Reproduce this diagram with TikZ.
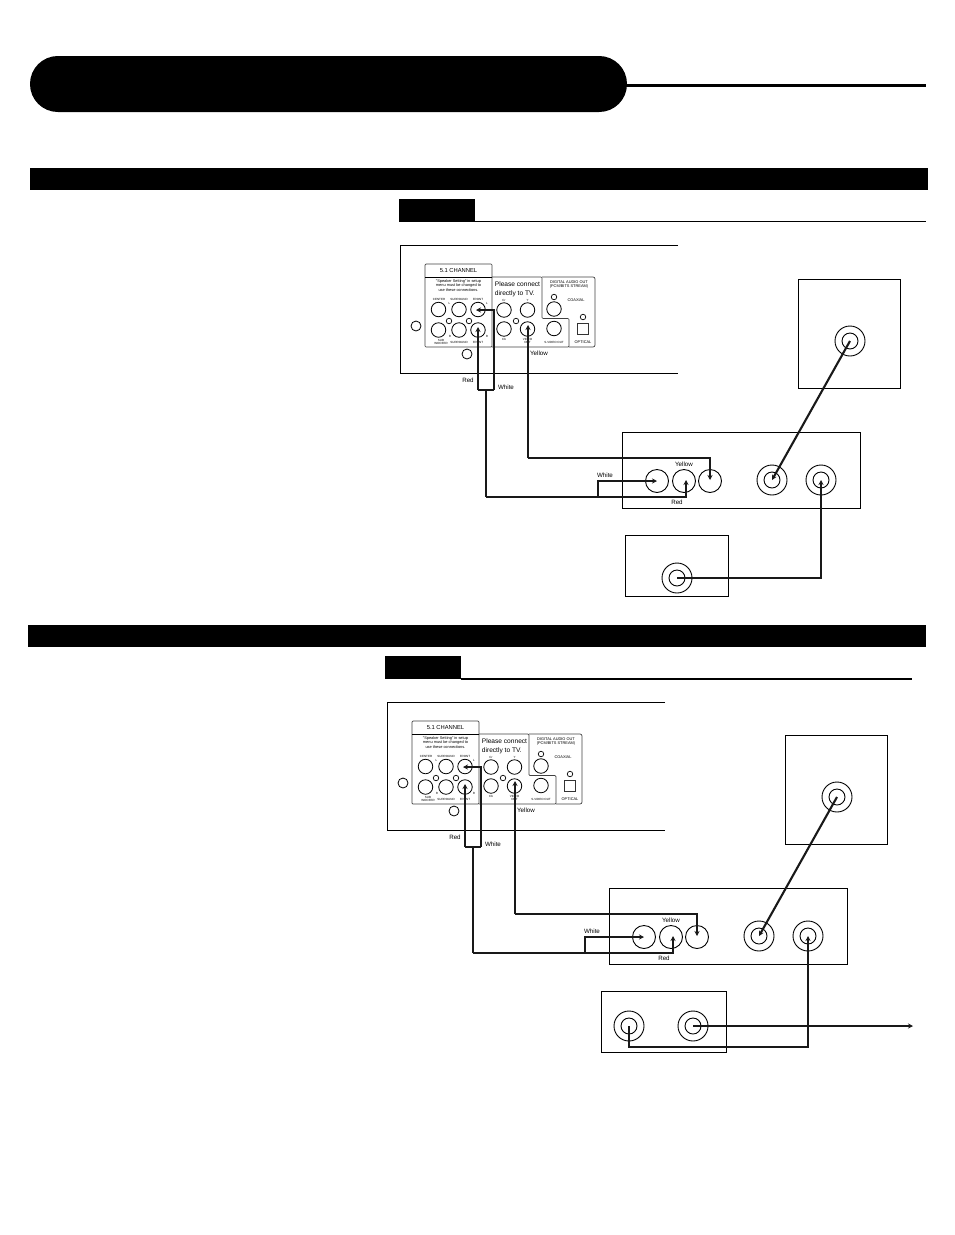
\documentclass[tikz,border=0pt]{standalone}
\usepackage{fontspec}
\setmainfont{Liberation Sans}
\usetikzlibrary{arrows.meta}
\tikzset{
  bar/.style={fill=black,draw=none,inner sep=0},
  thin box/.style={draw=black,line width=0.8pt,inner sep=0,fill=none},
  frame/.style={draw=black,line width=0.8pt},
  jack/.style={circle,draw=black,line width=0.8pt,inner sep=0,minimum size=14.5pt},
  ringout/.style={circle,draw=black,line width=0.9pt,inner sep=0,minimum size=30pt},
  ringin/.style={circle,draw=black,line width=0.9pt,inner sep=0,minimum size=16pt},
  smallhole/.style={circle,draw=black,line width=0.7pt,inner sep=0,minimum size=5.5pt},
  hole/.style={circle,draw=black,line width=0.8pt,inner sep=0,minimum size=10pt},
  cable/.style={line width=2.1pt,draw=black!90,line join=miter,-{Stealth[length=5pt,width=5pt]}},
  plaincable/.style={line width=2.1pt,draw=black!90,line join=miter},
  tiny/.style={font=\fontsize{3}{3.5}\selectfont,inner sep=0,align=center},
  small/.style={font=\fontsize{3.9}{4.7}\selectfont,inner sep=0,align=center},
  note/.style={font=\fontsize{6.6}{9.2}\selectfont,inner sep=0,align=left},
  lab/.style={font=\fontsize{6.2}{7}\selectfont,inner sep=0},
}
\newcommand{\rearpanel}{%
  \draw[frame] (678,245) -- (400.5,245) -- (400.5,373.5) -- (678,373.5);
  \draw[line width=0.7pt,rounded corners=1pt,draw=black!75] (425,347) -- (425,264) -- (492,264) -- (492,347) -- cycle;
  \draw[line width=0.9pt] (425,277) -- (492,277);
  \draw[line width=0.7pt,rounded corners=1pt,draw=black!75] (492,277) -- (542,277) -- (542,318.5) -- (569,318.5) -- (569,347) -- (492,347);
  \draw[line width=0.7pt,rounded corners=2pt,draw=black!75] (542,277) -- (595,277) -- (595,347) -- (569,347);
  \node[inner sep=0,font=\fontsize{5.8}{6}\selectfont] (title) at (458.5,270.5) {5.1 CHANNEL};
  \node[small] (warn) at (458.5,285.5) {"Speaker Setting" in setup\\menu must be changed to\\use these connections.};
  \node[note] (please) at (517.5,289) {Please connect\\directly to TV.};
  \node[small] (dig) at (569,284.5) {DIGITAL AUDIO OUT\\(PCM/BITS STREAM)};
  \node[jack] (center) at (438.5,309.5) {};
  \node[jack] (surl) at (459,309.5) {};
  \node[jack] (frontl) at (478,309.5) {};
  \node[jack] (sub) at (438.5,330) {};
  \node[jack] (surr) at (459,330) {};
  \node[jack] (frontr) at (478,330) {};
  \node[smallhole] (s1) at (449,321) {};
  \node[smallhole] (s2) at (469,321) {};
  \node[jack] (cr) at (504,310) {};
  \node[jack] (y) at (527.5,310) {};
  \node[jack] (cb) at (504,329) {};
  \node[jack] (vid) at (527.5,329) {};
  \node[smallhole] (s3) at (516,321) {};
  \node[jack] (coax) at (554,309) {};
  \node[jack] (svid) at (554,328.5) {};
  \node[smallhole] (s4) at (554,297) {};
  \node[smallhole] (s5) at (583,317) {};
  \node[draw=black!80,line width=0.7pt,inner sep=0,minimum size=11pt] (opt) at (583,328.5) {};
  \node[hole] (h1) at (416,326) {};
  \node[hole] (h2) at (467,354) {};
  \node[tiny] (t1) at (439,299.5) {CENTER};
  \node[tiny] (t2) at (459,299.5) {SURROUND};
  \node[tiny] (t3) at (478,299.5) {FRONT};
  \node[tiny] (t4) at (449.5,303) {L};
  \node[tiny] (t5) at (487,303) {L};
  \node[tiny] (t6) at (441,342) {SUB\\WOOFER};
  \node[tiny] (t7) at (450,336) {R};
  \node[tiny] (t8) at (459,342) {SURROUND};
  \node[tiny] (t9) at (478,342) {FRONT};
  \node[tiny] (t10) at (487,336) {R};
  \node[tiny] (t11) at (504,300) {Cr};
  \node[tiny] (t12) at (527.5,300) {Y};
  \node[tiny] (t13) at (504,339.5) {Cb};
  \node[tiny] (t14) at (527.5,341) {VIDEO\\OUT};
  \node[tiny] (t15) at (554,342) {S-VIDEO OUT};
  \node[small] (t16) at (576,300.5) {COAXIAL};
  \node[small] (t17) at (583,342) {OPTICAL};
  \node[lab] (lyel) at (539,353) {Yellow};
  \node[lab] (lred) at (468,380.5) {Red};
  \node[lab] (lwhi) at (506,387.5) {White};
  \coordinate (sl) at (478,390);
  \coordinate (sr) at (494,390);
  \coordinate (sc) at (486,390);
  \coordinate (st) at (494,310);
  \draw[plaincable] (sl) -- (sr);
  \draw[cable] (sl) -- ++(0,-63);
  \draw[cable] (sr) -- (st) -- ++(-18,0);
}
\newcommand{\avpanel}{%
  \node[thin box,minimum width=238pt,minimum height=75.5pt] (recv) at (741,470.5) {};
  \node[thin box,minimum width=102pt,minimum height=109pt] (tv) at (849,333.5) {};
  \node[jack,minimum size=23pt,line width=0.9pt] (ain) at (657,481) {};
  \node[jack,minimum size=23pt,line width=0.9pt] (bin) at (684,481) {};
  \node[jack,minimum size=23pt,line width=0.9pt] (cin) at (710,481) {};
  \node[ringout] (mo) at (772,480) {};
  \node[ringin] (mi) at (772,480) {};
  \node[ringout] (no) at (821,480) {};
  \node[ringin] (ni) at (821,480) {};
  \node[ringout] (to) at (850,341) {};
  \node[ringin] (ti) at (850,341) {};
  \node[lab] (lw) at (605,475) {White};
  \node[lab] (ly) at (684,464) {Yellow};
  \node[lab] (lr) at (677,502) {Red};
  \draw[cable] (to.center) -- (mo.center);
}
\begin{document}
\begin{tikzpicture}[x=1pt,y=-1pt]
\useasboundingbox (0,0) rectangle (954,1235);
% header
\draw[line width=3pt] (620,85) coordinate (hl) -- (926,85) coordinate (hr);
\node[bar,rounded corners=27.9pt,minimum width=597pt,minimum height=56pt] (pill) at (328.5,84) {};
\node[bar,minimum width=898pt,minimum height=22pt] (sec1) at (479,179) {};
\node[bar,minimum width=898pt,minimum height=22pt] (sec2) at (477,636) {};
% first section
\node[bar,minimum width=76pt,minimum height=23pt] (tag1) at (437,210.5) {};
\coordinate (tag1r) at (926,221.5);
\draw[line width=1pt] (475,221.5) -- (tag1r);
\begin{scope}[name prefix=a-]
  \rearpanel
  \avpanel
  \node[thin box,minimum width=103pt,minimum height=61pt] (dvd) at (676.5,565.5) {};
  \node[ringout] (do) at (677,578) {};
  \node[ringin] (di) at (677,578) {};
  \coordinate (c1) at (486,497);
  \coordinate (c2) at (686,497);
  \coordinate (c3) at (598,497);
  \coordinate (c4) at (598,481);
  \coordinate (c5) at (528,458);
  \coordinate (c6) at (710,458);
  \coordinate (c7) at (821,578);
  \draw[plaincable] (sc) -- (c1);
  \draw[cable] (c1) -- (c2) -- ++(0,-17);
  \draw[cable] (c3) -- (c4) -- ++(59,0);
  \draw[cable] (c5) -- ++(0,-133);
  \draw[cable] (c5) -- (c6) -- ++(0,22);
  \draw[cable] (do.center) -- (c7) -- (ni.center);
\end{scope}
% second section
\node[bar,minimum width=76pt,minimum height=23pt] (tag2) at (423,667.5) {};
\coordinate (tag2r) at (912,679);
\draw[line width=1.6pt] (461,679) -- (tag2r);
\begin{scope}[name prefix=b-]
  \begin{scope}[shift={(-13,457)}]
    \rearpanel
  \end{scope}
  \begin{scope}[shift={(-13,456)}]
    \avpanel
    \coordinate (c1) at (486,497);
    \coordinate (c2) at (686,497);
    \coordinate (c3) at (598,497);
    \coordinate (c4) at (598,481);
    \coordinate (c5) at (528,458);
    \coordinate (c6) at (710,458);
  \end{scope}
  \node[thin box,minimum width=125pt,minimum height=61pt] (dvd) at (663.5,1021.5) {};
  \node[ringout] (do) at (629,1026) {};
  \node[ringin] (di) at (629,1026) {};
  \node[ringout] (eo) at (693,1026) {};
  \node[ringin] (ei) at (693,1026) {};
  \coordinate (c7) at (629,1047);
  \coordinate (c8) at (808,1047);
  \coordinate (out) at (913,1026);
  \draw[plaincable] (sc) -- (c1);
  \draw[cable] (c1) -- (c2) -- ++(0,-17);
  \draw[cable] (c3) -- (c4) -- ++(59,0);
  \draw[cable] (c5) -- ++(0,-133);
  \draw[cable] (c5) -- (c6) -- ++(0,22);
  \draw[cable] (do.center) -- (c7) -- (c8) -- (ni.center);
  \draw[line width=1.4pt,draw=black!90,-{Stealth[length=5pt,width=5pt]}] (eo.center) -- (out);
\end{scope}
\end{tikzpicture}
\end{document}
